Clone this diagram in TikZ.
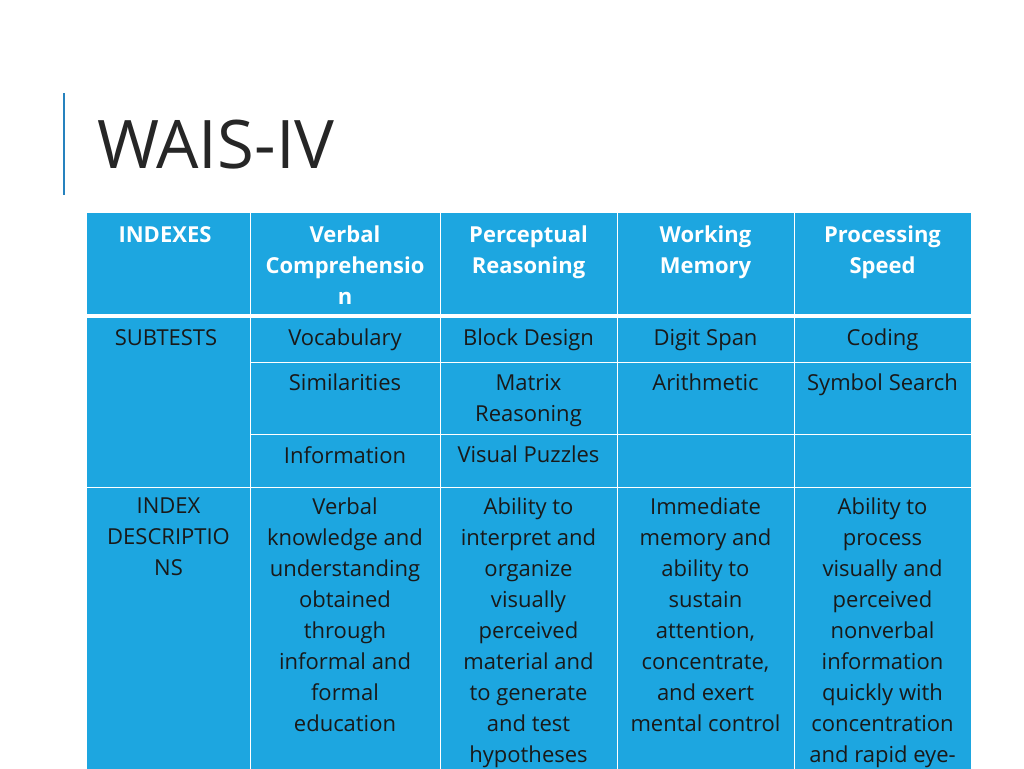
\documentclass[tikz,border=0pt]{standalone}
\usepackage{fontspec}
\setmainfont{Open Sans}
\definecolor{tb}{RGB}{29,166,224}
\definecolor{tl}{RGB}{38,130,190}
\begin{document}
\begin{tikzpicture}[x=1pt,y=-1pt,
 cell/.style={anchor=north,align=center,inner sep=0pt,font=\fontsize{22}{31}\selectfont,text=black!90},
 hd/.style={cell,font=\fontsize{22}{31}\selectfont\bfseries,text=white}]
\useasboundingbox (0,0) rectangle (1024,768);
\clip (0,0) rectangle (1024,768);
\fill[white] (0,0) rectangle (1024,768);
\draw[tl,line width=2pt] (64,93) -- (64,195);
\node[anchor=base west,inner sep=0pt,font=\fontsize{67}{70}\selectfont,text=black!85] (title) at (97,168) {WAIS-IV};
\fill[tb] (87,213) rectangle (971,800);
\draw[white,line width=3.5pt] (87,316) -- (971,316);
\foreach \y in {362,434,487} \draw[white,line width=1pt] (250,\y) -- (971,\y);
\draw[white,line width=1pt] (87,487) -- (250,487);
\foreach \x in {250,440,617,794} \draw[white,line width=1pt] (\x,213) -- (\x,800);
% header
\node[hd] (h1) at (165,226) {INDEXES};
\node[hd] (h2) at (345,226) {Verbal\\Comprehensio\\n};
\node[hd] (h3) at (528.5,226) {Perceptual\\Reasoning};
\node[hd] (h4) at (705.5,226) {Working\\Memory};
\node[hd] (h5) at (882.5,226) {Processing\\Speed};
% rows
\node[cell] (s0) at (166,329) {SUBTESTS};
\node[cell] (a2) at (345,329) {Vocabulary};
\node[cell] (a3) at (528.5,329) {Block Design};
\node[cell] (a4) at (705.5,329) {Digit Span};
\node[cell] (a5) at (882.5,329) {Coding};
\node[cell] (b2) at (345,374) {Similarities};
\node[cell] (b3) at (528.5,374) {Matrix\\Reasoning};
\node[cell] (b4) at (705.5,374) {Arithmetic};
\node[cell] (b5) at (882.5,374) {Symbol Search};
\node[cell] (c2) at (345,446) {Information};
\node[cell] (c3) at (528.5,446) {Visual Puzzles};
\node[cell] (d1) at (168.5,498) {INDEX\\DESCRIPTIO\\NS};
\node[cell] (d2) at (345,498) {Verbal\\knowledge and\\understanding\\obtained\\through\\informal and\\formal\\education};
\node[cell] (d3) at (528.5,498) {Ability to\\interpret and\\organize\\visually\\perceived\\material and\\to generate\\and test\\hypotheses};
\node[cell] (d4) at (705.5,498) {Immediate\\memory and\\ability to\\sustain\\attention,\\concentrate,\\and exert\\mental control};
\node[cell] (d5) at (882.5,498) {Ability to\\process\\visually and\\perceived\\nonverbal\\information\\quickly with\\concentration\\and rapid eye-};
\end{tikzpicture}
\end{document}
